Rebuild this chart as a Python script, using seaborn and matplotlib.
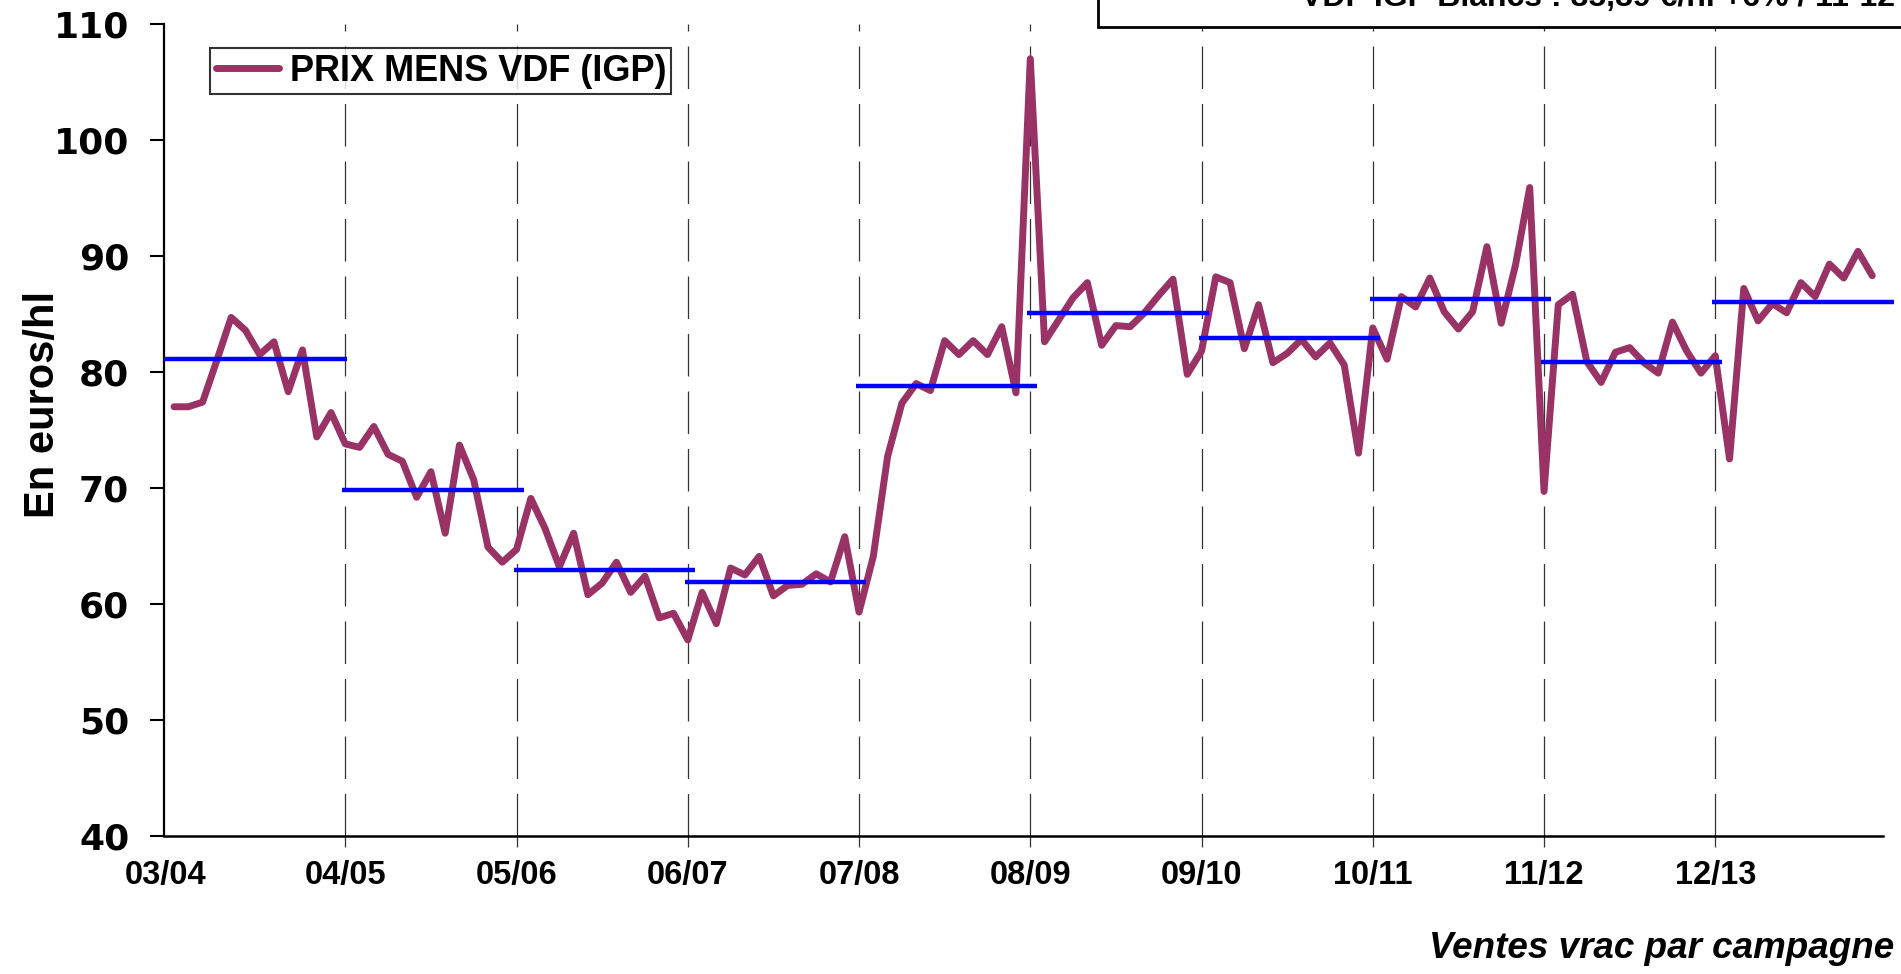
import numpy as np
import pandas as pd
import matplotlib.pyplot as plt
import seaborn as sns

# campagnes (une tous les 12 mois)
campagnes = ["03/04", "04/05", "05/06", "06/07", "07/08",
             "08/09", "09/10", "10/11", "11/12", "12/13"]

# prix mensuels VDF IGP (euros/hl)
prix_mens = [
    77.0, 77.0, 77.4, 81.0, 84.7, 83.6, 81.5, 82.6, 78.3, 81.9, 74.4, 76.5,
    73.8, 73.5, 75.3, 72.9, 72.3, 69.2, 71.4, 66.1, 73.7, 70.7, 64.9, 63.6,
    64.7, 69.1, 66.5, 63.2, 66.1, 60.8, 61.8, 63.6, 61.0, 62.4, 58.8, 59.2,
    56.9, 61.0, 58.3, 63.1, 62.5, 64.1, 60.7, 61.6, 61.7, 62.6, 61.9, 65.8,
    59.3, 64.1, 72.7, 77.3, 79.0, 78.4, 82.7, 81.5, 82.7, 81.5, 83.9, 78.2,
    107.0, 82.6, 84.5, 86.4, 87.7, 82.3, 84.0, 83.9, 85.1, 86.6, 88.0, 79.8,
    81.8, 88.2, 87.7, 82.0, 85.8, 80.8, 81.6, 82.8, 81.3, 82.5, 80.6, 73.0,
    83.8, 81.1, 86.5, 85.6, 88.1, 85.2, 83.7, 85.2, 90.8, 84.2, 89.2, 95.9,
    69.7, 85.8, 86.7, 80.9, 79.1, 81.7, 82.1, 80.8, 79.9, 84.3, 81.8, 79.9,
    81.4, 72.5, 87.2, 84.4, 85.9, 85.1, 87.7, 86.5, 89.3, 88.1, 90.4, 88.3,
]

# moyenne par campagne (traits bleus)
moy_campagne = [81.1, 69.8, 62.9, 61.9, 78.8, 85.1, 82.9, 86.3, 80.9, 86.0]

encart = "VDF IGP Blancs : 85,89 €/hl +6% / 11-12"

sns.set_style("white")
plt.rcParams['font.family'] = ['Liberation Sans', 'DejaVu Sans']
plt.rcParams['font.weight'] = 'bold'
for key in ['text.color', 'axes.labelcolor', 'xtick.color', 'ytick.color',
            'axes.edgecolor']:
    plt.rcParams[key] = 'black'

df = pd.DataFrame({"mois": np.arange(len(prix_mens)), "prix": prix_mens})

fig = plt.figure(figsize=(19.01, 9.74), dpi=100)
ax = fig.add_axes([0.0863, 0.1417, 0.9042, 0.8337])

x_min, x_max = -0.7, 119.75
ax.set_xlim(x_min, x_max)
ax.set_ylim(40, 110)

# separations de campagne
for k in range(1, len(campagnes)):
    ax.axvline(12 * k, color="#333333", lw=0.9, linestyle=(0, (34, 12)), zorder=1)

sns.lineplot(data=df, x="mois", y="prix", color="#993366", lw=5,
             label="PRIX MENS VDF (IGP)", ax=ax, zorder=3)

for k, v in enumerate(moy_campagne):
    x0 = x_min if k == 0 else 12 * k - 0.2
    x1 = 12 * k + 12.1 if k == 0 else 12 * k + 12.5
    ax.plot([x0, x1], [v, v], color="#0000FF", lw=3.2,
            solid_capstyle="butt", clip_on=False, zorder=4)

ax.set_yticks(range(40, 111, 10))
ax.set_xticks([-0.6] + [12 * k for k in range(1, len(campagnes))])
ax.set_xticklabels(campagnes)
ax.tick_params(axis="y", direction="out", length=10, width=1.5, pad=15,
               labelsize=26, left=True)
ax.tick_params(axis="x", direction="out", length=8, width=0.9, pad=9,
               labelsize=23.5, bottom=True, colors="#333333", labelcolor="black")
ax.xaxis.get_major_ticks()[0].tick1line.set_visible(False)
for lab in ax.get_yticklabels():
    lab.set_fontweight("bold")
    lab.set_family("DejaVu Sans")
for lab in ax.get_xticklabels():
    lab.set_fontweight("bold")

sns.despine(ax=ax)
ax.spines["left"].set_linewidth(1.6)
ax.spines["bottom"].set_linewidth(1.8)

ax.set_xlabel("")
ax.set_ylabel("En euros/hl", fontsize=30, fontweight="bold")
ax.yaxis.set_label_coords(-0.059, 0.531)

fig.text(0.9963, 0.008, "Ventes vrac par campagne", ha="right", va="bottom",
         fontsize=26.5, fontweight="bold", fontstyle="italic")

leg = ax.legend(loc="upper left", bbox_to_anchor=(0.0268, 0.970),
                borderaxespad=0, fancybox=False, frameon=True,
                prop={"weight": "bold", "size": 26},
                handlelength=1.75, handletextpad=0.3, borderpad=0.15)
leg.get_frame().set_edgecolor("black")
leg.get_frame().set_linewidth(1.5)

# encart en haut a droite (coupe par le bord)
fig.patches.append(plt.Rectangle((1098 / 1901, 1 - 27 / 974), 0.5, 0.5,
                                 transform=fig.transFigure, facecolor="white",
                                 edgecolor="black", lw=2, zorder=5))
fig.text(1301 / 1901, 1 - 6 / 974, encart, ha="left", va="baseline",
         fontsize=23, fontweight="bold", zorder=6)

fig.savefig("out.png", dpi=100)
